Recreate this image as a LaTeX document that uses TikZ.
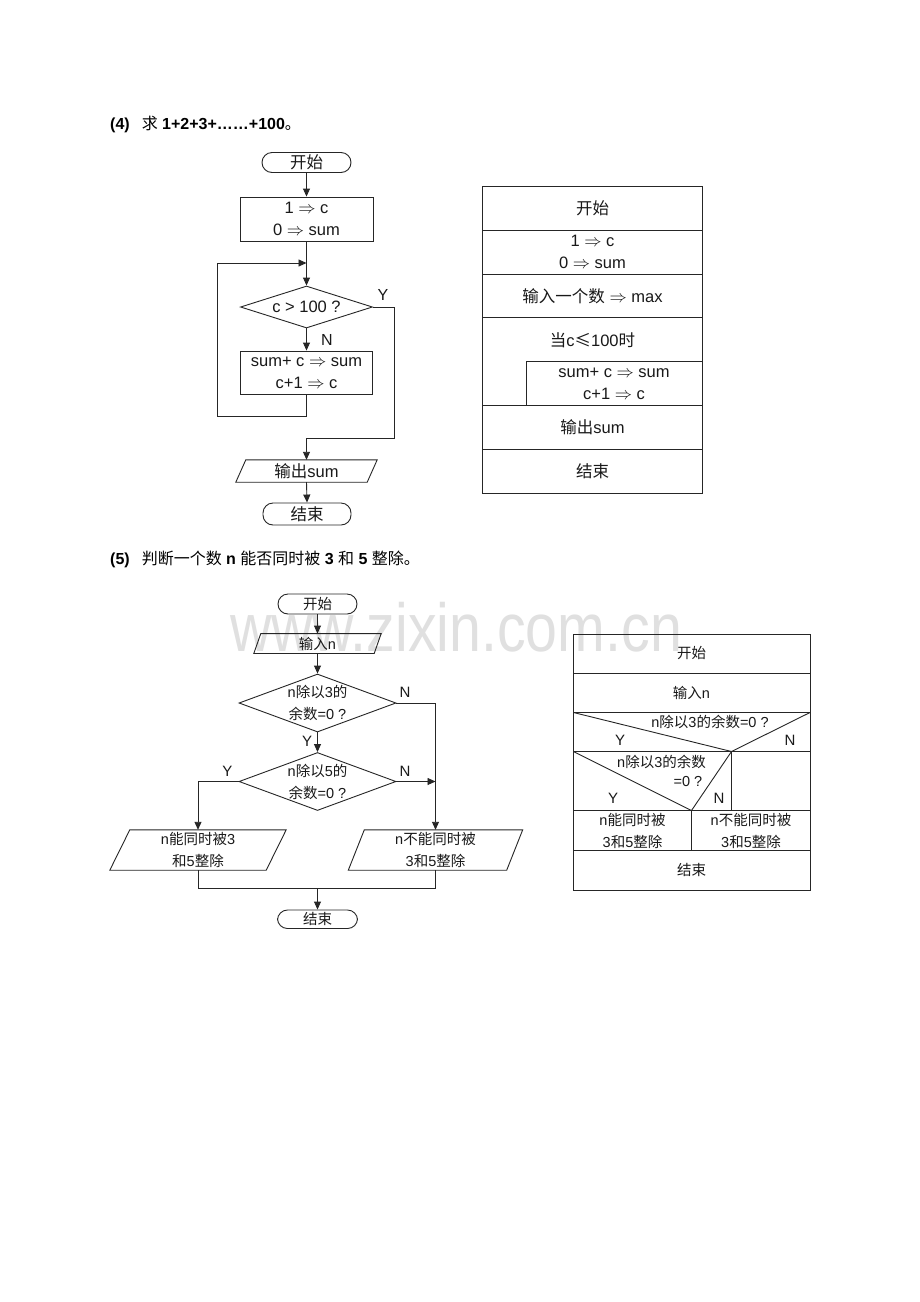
\documentclass[tikz,border=0pt]{standalone}
\usepackage{fontspec}
\usepackage{graphicx}
\setmainfont{Liberation Sans}
\newfontfamily\cjk{Noto Sans CJK SC}
\usetikzlibrary{arrows.meta,shapes.geometric,calc}
\newcommand\zh[1]{{\cjk #1}}
\newcommand\RA{$\Rightarrow$}
\tikzset{
  ln/.style={line width=0.9pt, draw=black!85},
  arr/.style={ln, -{Triangle[length=8pt,width=7pt]}},
  bigtxt/.style={font=\fontsize{16.5}{22}\selectfont, align=center, inner sep=0pt, text=black!90},
  smtxt/.style={font=\fontsize{14.5}{22}\selectfont, align=center, inner sep=0pt, text=black!90},
  lab/.style={font=\fontsize{16}{18}\selectfont, inner sep=0pt, text=black!90},
  slab/.style={font=\fontsize{15}{18}\selectfont, inner sep=0pt, text=black!90},
  term/.style={ln, rectangle, rounded corners=10pt, inner sep=0pt},
  box/.style={ln, rectangle, inner sep=0pt},
  dia/.style={ln, diamond, inner sep=0pt, shape aspect=3},
  hold/.style={rectangle, inner sep=0pt},
  title/.style={font=\fontsize{16}{20}\selectfont\bfseries, inner sep=0pt, anchor=base west},
}
% parallelogram: name, slant
\newcommand\parashape[2]{%
  \draw[ln] ($(#1.north west)+(#2/2,0)$) -- ($(#1.north east)+(#2/2,0)$)
    -- ($(#1.south east)-(#2/2,0)$) -- ($(#1.south west)-(#2/2,0)$) -- cycle;}
\begin{document}
\begin{tikzpicture}[x=1pt,y=-1pt]
\useasboundingbox[fill=white] (0,0) rectangle (920,1302);

% watermark
\node[inner sep=0pt, anchor=base, text=black!12] (wm) at (456,651)
  {\resizebox{452pt}{\height}{\fontsize{68}{68}\selectfont www.zixin.com.cn}};

% ---------- titles ----------
\node[title] (t4) at (110,129) {(4)\hspace{12pt}{\mdseries\cjk 求} 1+2+3+……+100{\mdseries\cjk 。}};
\node[title] (t5) at (110,564) {(5)\hspace{12pt}{\mdseries\cjk 判断一个数} n {\mdseries\cjk 能否同时被} 3 {\mdseries\cjk 和} 5 {\mdseries\cjk 整除。}};

% ---------- flowchart (4) ----------
\node[term, minimum width=89pt, minimum height=20pt] (s1) at (306.5,162.5) {};
\node[bigtxt] at (s1) {\zh{开始}};
\node[box, minimum width=133pt, minimum height=44pt, bigtxt] (b1) at (306.5,219) {1 \RA\ c\\0 \RA\ sum};
\node[dia, minimum width=132pt, minimum height=42pt] (d1) at (306.5,307) {};
\node[bigtxt] at (d1) {c > 100 ?};
\node[box, minimum width=132pt, minimum height=43pt, bigtxt] (b2) at (306.5,372.5) {sum+ c \RA\ sum\\c+1 \RA\ c};
\node[hold, minimum width=131pt, minimum height=22pt] (o1) at (306.5,471) {};
\parashape{o1}{10}
\node[bigtxt] at (o1) {\zh{输出}sum};
\node[term, minimum width=88pt, minimum height=22pt] (e1) at (307,514) {};
\node[bigtxt] at (e1) {\zh{结束}};

\coordinate (j1) at (306.5,263);
\coordinate (l1) at (217,416);
\coordinate (l2) at (217,263);
\coordinate (yb) at (394,438);
\coordinate (yc) at (306.5,438);
\draw[arr] (s1.south) -- (b1.north);
\draw[ln] (b1.south) -- (j1);
\draw[arr] (j1) -- (d1.north);
\draw[arr] (d1.south) -- (b2.north);
\draw[arr] (b2.south) |- (l1) -- (l2) -- (j1);
\draw[arr] (d1.east) -| (yb) -- (yc) -- (o1.north);
\draw[arr] (o1.south) -- (e1.north);
\node[lab] (ly1) at (383,295) {Y};
\node[lab] (ln1) at (327,340) {N};

% ---------- N-S (4) ----------
\draw[ln] (482.5,186) rectangle (702.5,493);
\draw[ln] (482.5,230) -- (702.5,230);
\draw[ln] (482.5,274) -- (702.5,274);
\draw[ln] (482.5,317.5) -- (702.5,317.5);
\draw[ln] (482.5,405.5) -- (702.5,405.5);
\draw[ln] (482.5,449.5) -- (702.5,449.5);
\draw[ln] (526.5,405.5) -- (526.5,361.5) -- (702.5,361.5);
\node[bigtxt] (n1) at (592.5,208) {\zh{开始}};
\node[bigtxt] (n2) at (592.5,252) {1 \RA\ c\\0 \RA\ sum};
\node[bigtxt] (n3) at (592.5,296) {\zh{输入一个数} \RA\ max};
\node[bigtxt] (n4) at (592.5,340) {\zh{当}c\zh{≤}100\zh{时}};
\node[bigtxt] (n5) at (614,383.5) {sum+ c \RA\ sum\\c+1 \RA\ c};
\node[bigtxt] (n6) at (592.5,427.5) {\zh{输出}sum};
\node[bigtxt] (n7) at (592.5,471) {\zh{结束}};

% ---------- flowchart (5) ----------
\node[term, minimum width=79pt, minimum height=20pt] (s2) at (317.5,604) {};
\node[smtxt] at (s2) {\zh{开始}};
\node[hold, minimum width=120pt, minimum height=19.5pt] (i2) at (317.5,643.5) {};
\parashape{i2}{7}
\node[smtxt] at (i2) {\zh{输入}n};
\node[dia, minimum width=157pt, minimum height=58pt] (d2) at (317.5,703) {};
\node[smtxt] at (d2) {n\zh{除以}3\zh{的}\\\zh{余数}=0 ?};
\node[dia, minimum width=157pt, minimum height=58pt] (d3) at (317.5,781.5) {};
\node[smtxt] at (d3) {n\zh{除以}5\zh{的}\\\zh{余数}=0 ?};
\node[hold, minimum width=156pt, minimum height=40pt] (o2) at (198,850) {};
\parashape{o2}{20}
\node[smtxt] at (o2) {n\zh{能同时被}3\\\zh{和}5\zh{整除}};
\node[hold, minimum width=158pt, minimum height=40pt] (o3) at (435.5,850) {};
\parashape{o3}{16}
\node[smtxt] at (o3) {n\zh{不能同时被}\\3\zh{和}5\zh{整除}};
\node[term, minimum width=80pt, minimum height=18.5pt] (e2) at (317.5,919.25) {};
\node[smtxt] at (e2) {\zh{结束}};

\coordinate (m3) at (435.5,781.5);
\coordinate (mL) at (198,888);
\coordinate (mR) at (435.5,888);
\coordinate (mg) at (317.5,888);
\draw[arr] (s2.south) -- (i2.north);
\draw[arr] (i2.south) -- (d2.north);
\draw[arr] (d2.south) -- (d3.north);
\draw[arr] (d2.east) -| (o3.north);
\draw[arr] (d3.east) -- (m3);
\draw[arr] (d3.west) -| (o2.north);
\draw[ln] (o2.south) -- (mL) -- (mR) -- (o3.south);
\draw[arr] (mg) -- (e2.north);
\node[slab] (ln2) at (405,692) {N};
\node[slab] (ly2) at (307,741) {Y};
\node[slab] (ln3) at (405,771.5) {N};
\node[slab] (ly3) at (227.5,771.5) {Y};

% ---------- N-S (5) ----------
\draw[ln] (573.5,634.5) rectangle (810,890);
\draw[ln] (573.5,673.5) -- (810,673.5);
\draw[ln] (573.5,712.5) -- (810,712.5);
\draw[ln] (573.5,751.5) -- (810,751.5);
\draw[ln] (573.5,810.5) -- (810,810.5);
\draw[ln] (573.5,850.5) -- (810,850.5);
\draw[ln] (573.5,712.5) -- (731.5,751.5) -- (810,712.5);
\draw[ln] (731.5,751.5) -- (731.5,810.5);
\draw[ln] (573.5,751.5) -- (691.5,810.5) -- (731.5,751.5);
\draw[ln] (691.5,810.5) -- (691.5,850.5);
\node[smtxt] (p1) at (691.5,653.5) {\zh{开始}};
\node[smtxt] (p2) at (691.5,692.5) {\zh{输入}n};
\node[smtxt] (p3) at (710,721.5) {n\zh{除以}3\zh{的余数}=0 ?};
\node[slab] (p3y) at (620,740.5) {Y};
\node[slab] (p3n) at (790,740.5) {N};
\node[smtxt] (p4) at (661.5,762) {n\zh{除以}3\zh{的余数}};
\node[smtxt] (p4b) at (688,781.5) {=0 ?};
\node[slab] (p4y) at (613,798) {Y};
\node[slab] (p4n) at (719,798) {N};
\node[smtxt] (p5) at (632.5,831) {n\zh{能同时被}\\3\zh{和}5\zh{整除}};
\node[smtxt] (p6) at (751,831) {n\zh{不能同时被}\\3\zh{和}5\zh{整除}};
\node[smtxt] (p7) at (691.5,870) {\zh{结束}};
\end{tikzpicture}
\end{document}
